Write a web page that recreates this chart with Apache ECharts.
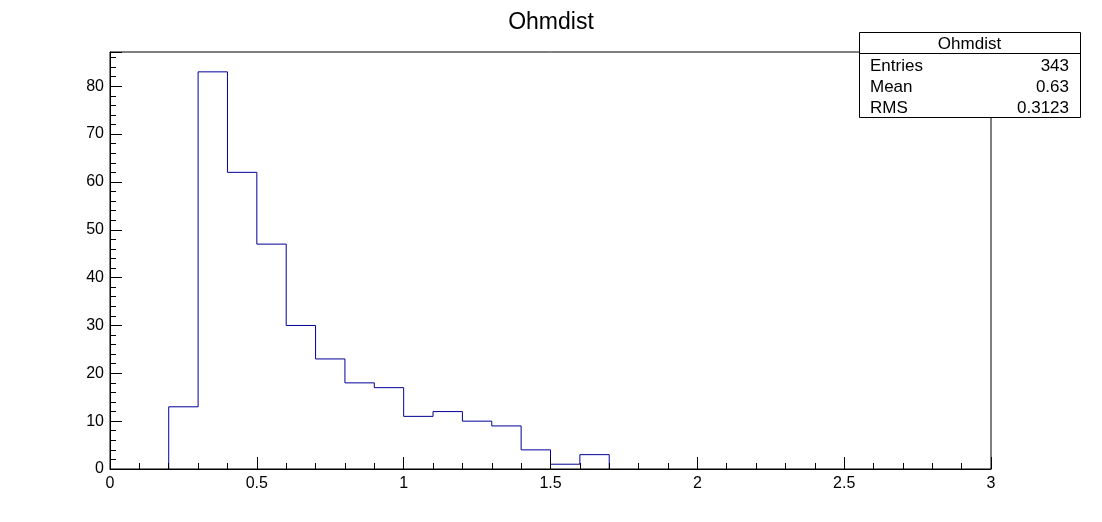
<!DOCTYPE html>
<html>
<head>
<meta charset="utf-8">
<script src="https://cdn.jsdelivr.net/npm/echarts@6/dist/echarts.min.js"></script>
<style>html,body{margin:0;padding:0;background:#fff;}#c{width:1102px;height:522px;}</style>
</head>
<body>
<div id="c"></div>
<script>
var title = 'Ohmdist';
var binStart = 0;
var binWidth = 0.1;
var counts = [0, 0, 13, 83, 62, 47, 30, 23, 18, 17, 11, 12, 10, 9, 4, 1, 3, 0, 0, 0, 0, 0, 0, 0, 0, 0, 0, 0, 0, 0];
var statLabels = ['Entries', 'Mean', 'RMS'];
var statValues = ['343', '0.63', '0.3123'];
var xMin = 0, xMax = 3, xInterval = 0.5;
var yMin = 0, yMax = 87.15, yInterval = 10;

// Step outline from the first to the last non-empty bin (empty bins lie on the axis).
var first = counts.findIndex(function (v) { return v > 0; });
var last = counts.length - 1;
while (last > 0 && counts[last] === 0) last--;
var edge = function (i) { return +(binStart + i * binWidth).toFixed(6); };
var stepData = [[edge(first), 0]];
for (var i = first; i <= last; i++) stepData.push([edge(i), counts[i]]);
stepData.push([edge(last + 1), 0]);

var FONT = 'Liberation Sans, Arial, Helvetica, sans-serif';
var chart = echarts.init(document.getElementById('c'), null, {renderer: 'canvas'});

var box = {x: 859, y: 32, w: 221, h: 85, head: 21, row: 21};
var graphics = [
  {type: 'rect', shape: {x: box.x + 0.5, y: box.y + 0.5, width: box.w, height: box.h}, style: {fill: '#fff', stroke: '#000', lineWidth: 1}, z: 100},
  {type: 'line', shape: {x1: box.x, y1: box.y + box.head + 0.5, x2: box.x + box.w, y2: box.y + box.head + 0.5}, style: {stroke: '#000', lineWidth: 1}, z: 101},
  {type: 'text', x: box.x + box.w / 2, y: box.y + box.head / 2 + 2, style: {text: title, fill: '#000', font: '17px ' + FONT, textAlign: 'center', textVerticalAlign: 'middle'}, z: 102}
];
statLabels.forEach(function (lab, i) {
  var cy = box.y + box.head + box.row * i + box.row / 2 + 3;
  graphics.push({type: 'text', x: box.x + 11, y: cy, style: {text: lab, fill: '#000', font: '17px ' + FONT, textAlign: 'left', textVerticalAlign: 'middle'}, z: 102});
  graphics.push({type: 'text', x: box.x + box.w - 11, y: cy, style: {text: statValues[i], fill: '#000', font: '17px ' + FONT, textAlign: 'right', textVerticalAlign: 'middle'}, z: 102});
});

chart.setOption({
  animation: false,
  backgroundColor: '#fff',
  title: {text: title, left: 'center', top: 6, textStyle: {fontFamily: FONT, fontSize: 23, fontWeight: 'normal', color: '#000'}},
  grid: {left: 110, right: 111, top: 52, bottom: 53, show: true, borderColor: '#000', borderWidth: 1, backgroundColor: 'transparent'},
  xAxis: {
    type: 'value', min: xMin, max: xMax, interval: xInterval, zlevel: 1,
    axisLine: {show: true, onZero: false, lineStyle: {color: '#000', width: 1}},
    axisTick: {show: true, inside: true, length: 12, lineStyle: {color: '#000'}},
    minorTick: {show: true, splitNumber: 5, length: 6, lineStyle: {color: '#000'}},
    splitLine: {show: false},
    axisLabel: {color: '#000', fontFamily: FONT, fontSize: 16, margin: 7, formatter: function (v) { return String(+v.toFixed(2)); }}
  },
  yAxis: {
    type: 'value', min: yMin, max: yMax, interval: yInterval, zlevel: 1,
    axisLine: {show: true, onZero: false, lineStyle: {color: '#000', width: 1}},
    axisTick: {show: true, inside: true, length: 12, lineStyle: {color: '#000'}},
    minorTick: {show: true, splitNumber: 5, length: 6, lineStyle: {color: '#000'}},
    splitLine: {show: false},
    axisLabel: {color: '#000', fontFamily: FONT, fontSize: 16, margin: 6, padding: [5, 0, 0, 0], showMaxLabel: false}
  },
  series: [{
    type: 'line', step: 'end', data: stepData, symbol: 'none', z: 2,
    lineStyle: {color: '#000099', width: 1}
  }],
  graphic: graphics
});
</script>
</body>
</html>
